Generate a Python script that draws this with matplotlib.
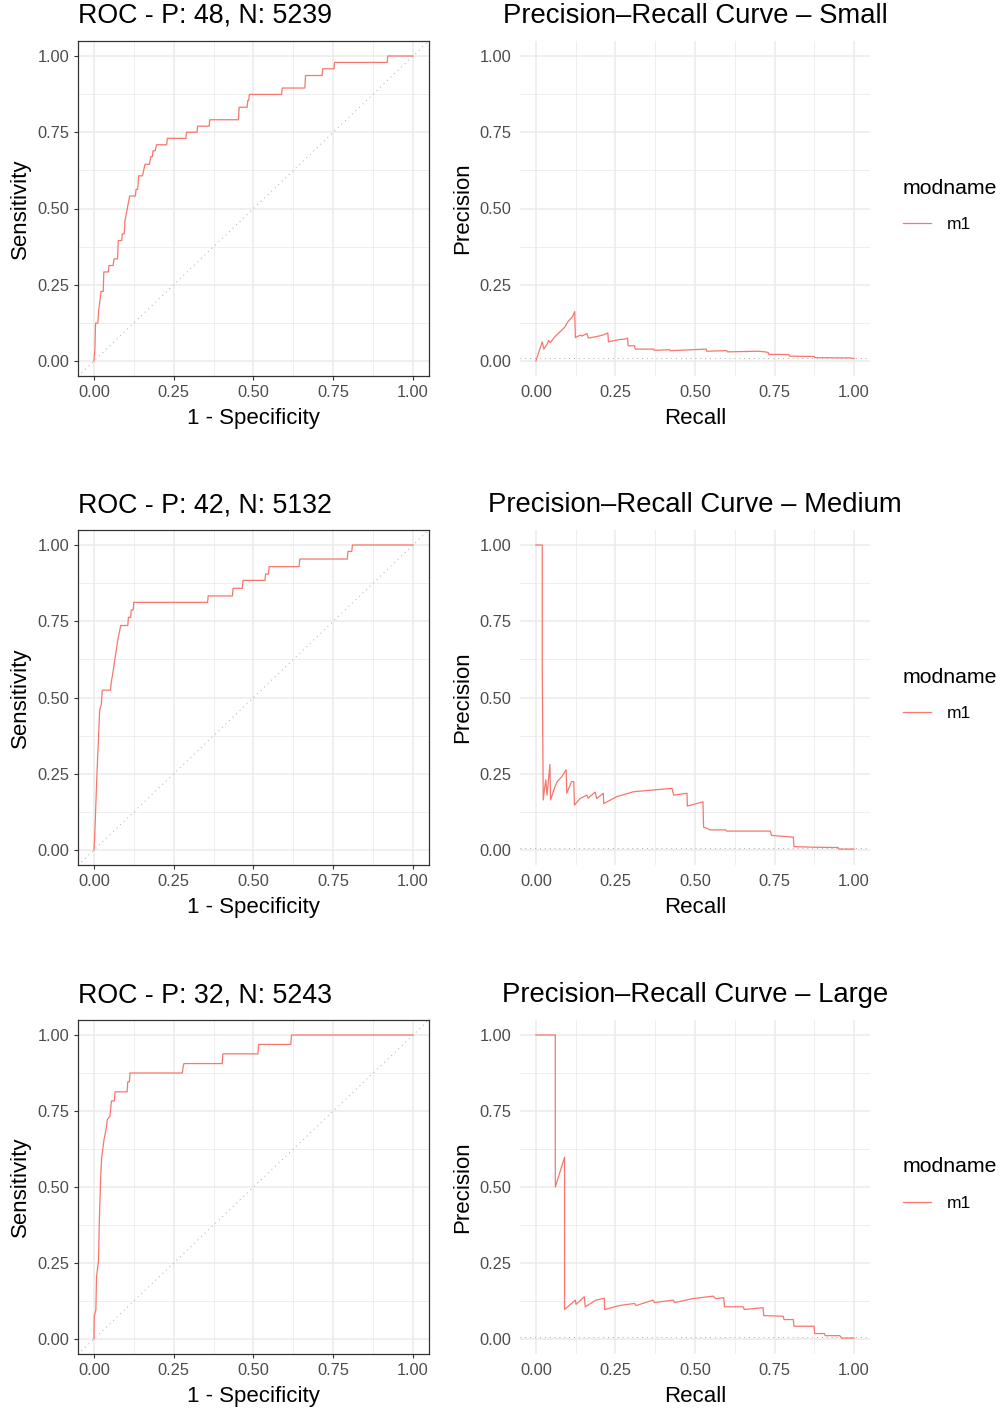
import matplotlib.pyplot as plt
from matplotlib.lines import Line2D

plt.rcParams['font.family'] = ['Liberation Sans', 'DejaVu Sans']

W, H = 1003, 1412
ROUGE = '#F8766D'
GRILLE = '#EBEBEB'
GRIS_TEXTE = '#4D4D4D'

# Données
tailles = ["Small", "Medium", "Large"]
positifs = [48, 42, 32]
negatifs = [5239, 5132, 5243]
modele = "m1"

roc_small_x = [0, 0.003, 0.005, 0.012, 0.015, 0.019, 0.022, 0.029, 0.031, 0.045, 0.047, 0.06, 0.063,
               0.074, 0.076, 0.087, 0.089, 0.095, 0.097, 0.105, 0.108, 0.112, 0.13, 0.132, 0.137, 0.14,
               0.152, 0.16, 0.174, 0.178, 0.183, 0.185, 0.192, 0.196, 0.228, 0.23, 0.288, 0.29, 0.323,
               0.325, 0.361, 0.363, 0.453, 0.455, 0.48, 0.482, 0.485, 0.487, 0.588, 0.59, 0.661, 0.663,
               0.715, 0.717, 0.752, 0.754, 0.919, 0.921, 1.0]
roc_small_y = [0, 0.04, 0.124, 0.124, 0.168, 0.2, 0.228, 0.228, 0.292, 0.292, 0.313, 0.313, 0.335,
               0.335, 0.395, 0.395, 0.417, 0.417, 0.459, 0.503, 0.52, 0.541, 0.541, 0.563, 0.563, 0.607,
               0.607, 0.645, 0.645, 0.67, 0.67, 0.689, 0.689, 0.709, 0.709, 0.73, 0.73, 0.75, 0.75,
               0.77, 0.77, 0.791, 0.791, 0.832, 0.832, 0.854, 0.854, 0.874, 0.874, 0.895, 0.895, 0.936,
               0.936, 0.958, 0.958, 0.979, 0.979, 1.0, 1.0]

roc_medium_x = [0, 0.002, 0.005, 0.008, 0.014, 0.018, 0.023, 0.026, 0.052, 0.054, 0.061, 0.068, 0.075,
                0.084, 0.106, 0.108, 0.115, 0.117, 0.123, 0.125, 0.356, 0.358, 0.434, 0.436, 0.465,
                0.467, 0.536, 0.538, 0.547, 0.549, 0.643, 0.645, 0.794, 0.796, 0.808, 0.81, 1.0]
roc_medium_y = [0, 0.037, 0.12, 0.213, 0.362, 0.46, 0.477, 0.524, 0.524, 0.548, 0.592, 0.642, 0.691,
                0.736, 0.736, 0.763, 0.763, 0.787, 0.787, 0.812, 0.812, 0.833, 0.833, 0.858, 0.858,
                0.884, 0.884, 0.905, 0.905, 0.929, 0.929, 0.954, 0.954, 0.979, 0.979, 1.0, 1.0]

roc_large_x = [0, 0.001, 0.006, 0.008, 0.014, 0.017, 0.021, 0.024, 0.032, 0.038, 0.042, 0.05, 0.055,
               0.064, 0.066, 0.104, 0.106, 0.111, 0.113, 0.277, 0.279, 0.282, 0.402, 0.404, 0.514,
               0.516, 0.617, 0.619, 1.0]
roc_large_y = [0, 0.076, 0.095, 0.205, 0.254, 0.392, 0.53, 0.596, 0.659, 0.689, 0.722, 0.733, 0.783,
               0.783, 0.813, 0.813, 0.846, 0.846, 0.875, 0.875, 0.893, 0.906, 0.906, 0.938, 0.938,
               0.969, 0.969, 1.0, 1.0]

pr_small_x = [0, 0.02, 0.025, 0.035, 0.04, 0.045, 0.06, 0.075, 0.09, 0.1, 0.11, 0.115, 0.122, 0.124,
              0.14, 0.145, 0.16, 0.165, 0.19, 0.21, 0.226, 0.228, 0.26, 0.28, 0.288, 0.29, 0.31, 0.312,
              0.37, 0.372, 0.42, 0.422, 0.47, 0.535, 0.537, 0.6, 0.602, 0.7, 0.72, 0.73, 0.732, 0.795,
              0.797, 0.874, 0.876, 0.99, 1.0]
pr_small_y = [0, 0.063, 0.039, 0.055, 0.068, 0.06, 0.08, 0.095, 0.11, 0.128, 0.14, 0.145, 0.162, 0.077,
              0.085, 0.082, 0.09, 0.075, 0.08, 0.085, 0.092, 0.063, 0.07, 0.072, 0.075, 0.05, 0.05, 0.039,
              0.039, 0.035, 0.037, 0.034, 0.036, 0.039, 0.032, 0.034, 0.03, 0.032, 0.03, 0.028, 0.022,
              0.021, 0.016, 0.015, 0.011, 0.01, 0.008]

pr_medium_x = [0, 0.02, 0.02, 0.023, 0.027, 0.031, 0.035, 0.044, 0.046, 0.06, 0.067, 0.081, 0.095,
               0.097, 0.112, 0.119, 0.121, 0.139, 0.16, 0.164, 0.186, 0.191, 0.212, 0.213, 0.254, 0.307,
               0.37, 0.428, 0.433, 0.475, 0.476, 0.525, 0.527, 0.548, 0.596, 0.6, 0.737, 0.74, 0.809,
               0.811, 0.879, 0.95, 0.952, 1.0]
pr_medium_y = [1.0, 1.0, 0.579, 0.164, 0.2, 0.23, 0.18, 0.28, 0.164, 0.208, 0.224, 0.24, 0.263, 0.186,
               0.224, 0.224, 0.147, 0.169, 0.18, 0.17, 0.19, 0.169, 0.186, 0.152, 0.175, 0.191, 0.197,
               0.202, 0.18, 0.186, 0.144, 0.158, 0.075, 0.066, 0.066, 0.062, 0.062, 0.048, 0.042, 0.011,
               0.009, 0.008, 0.003, 0.003]

pr_large_x = [0, 0.061, 0.061, 0.09, 0.09, 0.124, 0.126, 0.152, 0.155, 0.189, 0.215, 0.216, 0.263,
              0.31, 0.315, 0.368, 0.373, 0.431, 0.436, 0.494, 0.557, 0.565, 0.59, 0.593, 0.651, 0.655,
              0.714, 0.716, 0.777, 0.78, 0.809, 0.811, 0.874, 0.876, 0.907, 0.909, 0.955, 0.961, 1.0]
pr_large_y = [1.0, 1.0, 0.5, 0.598, 0.097, 0.128, 0.114, 0.139, 0.106, 0.128, 0.134, 0.097, 0.11,
              0.117, 0.11, 0.128, 0.12, 0.128, 0.12, 0.133, 0.141, 0.133, 0.136, 0.106, 0.106, 0.097,
              0.103, 0.077, 0.075, 0.064, 0.064, 0.042, 0.042, 0.018, 0.018, 0.011, 0.011, 0.003, 0.003]

roc_courbes = [(roc_small_x, roc_small_y), (roc_medium_x, roc_medium_y), (roc_large_x, roc_large_y)]
pr_courbes = [(pr_small_x, pr_small_y), (pr_medium_x, pr_medium_y), (pr_large_x, pr_large_y)]

# Mise en page (pixels)
hauts = [40.75, 529.75, 1019.8]
bas = [376.25, 865.25, 1354.2]
titres_y = [16, 505, 995]


def boite(gauche, haut, droite, bas_):
    return [gauche / W, 1 - bas_ / H, (droite - gauche) / W, (bas_ - haut) / H]


def style_commun(ax):
    ticks = [0, 0.25, 0.5, 0.75, 1.0]
    ax.set_xlim(-0.05, 1.05)
    ax.set_ylim(-0.05, 1.05)
    ax.set_xticks(ticks)
    ax.set_yticks(ticks)
    ax.set_xticklabels([f"{t:.2f}" for t in ticks])
    ax.set_yticklabels([f"{t:.2f}" for t in ticks])
    ax.set_xticks([0.125, 0.375, 0.625, 0.875], minor=True)
    ax.set_yticks([0.125, 0.375, 0.625, 0.875], minor=True)
    ax.grid(which='major', color=GRILLE, lw=1.1)
    ax.grid(which='minor', color=GRILLE, lw=0.6)
    ax.set_axisbelow(True)
    ax.tick_params(which='minor', length=0)
    ax.tick_params(which='major', labelsize=11.8, labelcolor=GRIS_TEXTE, length=3,
                   width=0.8, color='#333333', pad=3)


fig = plt.figure(figsize=(W / 100, H / 100), dpi=100)

for i, taille in enumerate(tailles):
    p, n = positifs[i], negatifs[i]

    # --- ROC ---
    ax = fig.add_axes(boite(78, hauts[i], 429, bas[i]))
    style_commun(ax)
    ax.plot([-0.05, 1.05], [-0.05, 1.05], color='#AAAAAA', ls=(0, (1, 4)), lw=0.7)
    x, y = roc_courbes[i]
    ax.plot(x, y, color=ROUGE, lw=0.9)
    for s in ax.spines.values():
        s.set_color('#333333')
        s.set_linewidth(0.9)
    ax.set_xlabel("1 - Specificity", fontsize=16, labelpad=6)
    ax.set_ylabel("Sensitivity", fontsize=16, labelpad=5)
    fig.text(78 / W, 1 - titres_y[i] / H, f"ROC - P: {p}, N: {n}", fontsize=19.3,
             ha='left', va='center')

    # --- Precision-Recall ---
    ax2 = fig.add_axes(boite(520, hauts[i], 870, bas[i]))
    style_commun(ax2)
    ax2.tick_params(which='major', color='none')
    for s in ax2.spines.values():
        s.set_visible(False)
    base = p / (p + n)
    ax2.plot([-0.05, 1.05], [base, base], color='#AAAAAA', ls=(0, (1, 4)), lw=0.7)
    x, y = pr_courbes[i]
    ax2.plot(x, y, color=ROUGE, lw=0.9)
    ax2.set_xlabel("Recall", fontsize=16, labelpad=6)
    ax2.set_ylabel("Precision", fontsize=16, labelpad=5)
    fig.text(695 / W, 1 - titres_y[i] / H, f"Precision\u2013Recall Curve \u2013 {taille}",
             fontsize=19.8, ha='center', va='center')

    milieu = (hauts[i] + bas[i]) / 2 - 3
    ax2.legend(handles=[Line2D([], [], color=ROUGE, lw=0.9)], labels=[modele],
               title="modname", loc='center left', bbox_to_anchor=(903 / W, 1 - milieu / H),
               bbox_transform=fig.transFigure, frameon=False, fontsize=12.5,
               title_fontsize=15.3, alignment='left', handlelength=1.6, handletextpad=0.9,
               labelspacing=1.1, borderaxespad=0, borderpad=0)

fig.savefig("out.png", dpi=100)
